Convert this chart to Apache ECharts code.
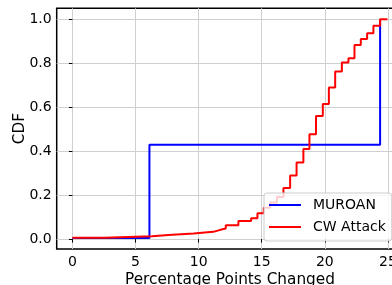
<!DOCTYPE html>
<html>
<head>
<meta charset="utf-8">
<style>
    html, body { margin: 0; padding: 0; background: #fff; }
    #main { width: 392px; height: 285px; }
</style>
<script src="https://cdn.jsdelivr.net/npm/echarts@6/dist/echarts.min.js"></script>
</head>
<body>
<div id="main"></div>
<script>
//刻度
var xTicks = [0, 5, 10, 15, 20, 25];
var yTicks = [0, 0.2, 0.4, 0.6, 0.8, 1.0];

//MUROAN 阶梯数据 [x, cdf]
var muroanX = [0, 6.1, 24.38];
var muroanY = [0.005, 0.429, 1.0];

//CW Attack 阶梯数据
var cwX = [0, 2.54, 6.3, 7.6, 9.6, 11.15, 11.65, 12.15, 13.15, 14.16, 14.66, 15.16, 15.67, 16.2,
    16.72, 17.25, 17.76, 18.3, 18.78, 19.3, 19.84, 20.32, 20.82, 21.35, 21.87, 22.35, 22.85,
    23.35, 23.85, 24.38, 24.96];
var cwY = [0.006, 0.013, 0.019, 0.025, 0.033, 0.041, 0.048, 0.063, 0.082, 0.095, 0.118, 0.143, 0.166, 0.191,
    0.232, 0.289, 0.348, 0.41, 0.477, 0.56, 0.615, 0.69, 0.762, 0.803, 0.823, 0.883, 0.91,
    0.936, 0.971, 1.0, 1.0];

function zip(xs, ys) {
    var out = [];
    for (var i = 0; i < xs.length; i++) {
        out.push([xs[i], ys[i]]);
    }
    return out;
}

var font = 'DejaVu Sans';
var myChart = echarts.init(document.getElementById('main'), null, { renderer: 'canvas' });

var option = {
    animation: false,
    textStyle: { fontFamily: font },
    grid: {
        left: 56.7,
        top: 8.3,
        right: -11.2,
        bottom: 36,
        show: true,
        borderColor: '#000',
        borderWidth: 1.5,
        containLabel: false,
        outerBoundsMode: 'none'
    },
    //图例：细矩形当作线段
    legend: {
        left: 264,
        top: 193,
        orient: 'vertical',
        icon: 'rect',
        padding: [5, 6, 7, 5],
        itemWidth: 32,
        itemHeight: 2,
        itemGap: 8,
        backgroundColor: 'rgba(255,255,255,0.8)',
        borderColor: '#cccccc',
        borderWidth: 1,
        borderRadius: 3,
        textStyle: {
            fontFamily: font,
            fontSize: 14,
            color: '#000',
            padding: [0, 0, 0, 7]
        },
        data: ['MUROAN', 'CW Attack']
    },
    xAxis: {
        type: 'value',
        min: -1.248,
        max: 26.21,
        name: 'Percentage Points Changed',
        nameLocation: 'middle',
        nameGap: 24,
        nameMoveOverlap: false,
        nameTextStyle: { fontFamily: font, fontSize: 15.3, color: '#000' },
        axisLine: { show: false },
        axisTick: { show: true, length: 3.5, customValues: xTicks, lineStyle: { color: '#000' } },
        axisLabel: {
            customValues: xTicks,
            margin: 6,
            fontFamily: font,
            fontSize: 14,
            color: '#000'
        },
        splitLine: { show: true, lineStyle: { color: '#d0d0d0', width: 1 } }
    },
    yAxis: {
        type: 'value',
        min: -0.045,
        max: 1.05,
        name: 'CDF',
        nameLocation: 'middle',
        nameGap: 29,
        nameMoveOverlap: false,
        nameTextStyle: { fontFamily: font, fontSize: 15.3, color: '#000' },
        axisLine: { show: false },
        axisTick: { show: true, length: 3.5, customValues: yTicks, lineStyle: { color: '#000' } },
        axisLabel: {
            customValues: yTicks,
            margin: 5,
            fontFamily: font,
            fontSize: 14,
            color: '#000',
            formatter: function (v) { return v.toFixed(1); }
        },
        splitLine: { show: true, lineStyle: { color: '#d0d0d0', width: 1 } }
    },
    series: [
        {
            name: 'MUROAN',
            type: 'line',
            step: 'end',
            symbol: 'none',
            lineStyle: { color: '#0000ff', width: 2 },
            itemStyle: { color: '#0000ff' },
            data: zip(muroanX, muroanY)
        },
        {
            name: 'CW Attack',
            type: 'line',
            step: 'end',
            symbol: 'none',
            lineStyle: { color: '#ff0000', width: 2 },
            itemStyle: { color: '#ff0000' },
            data: zip(cwX, cwY)
        }
    ]
};

myChart.setOption(option);
</script>
</body>
</html>
